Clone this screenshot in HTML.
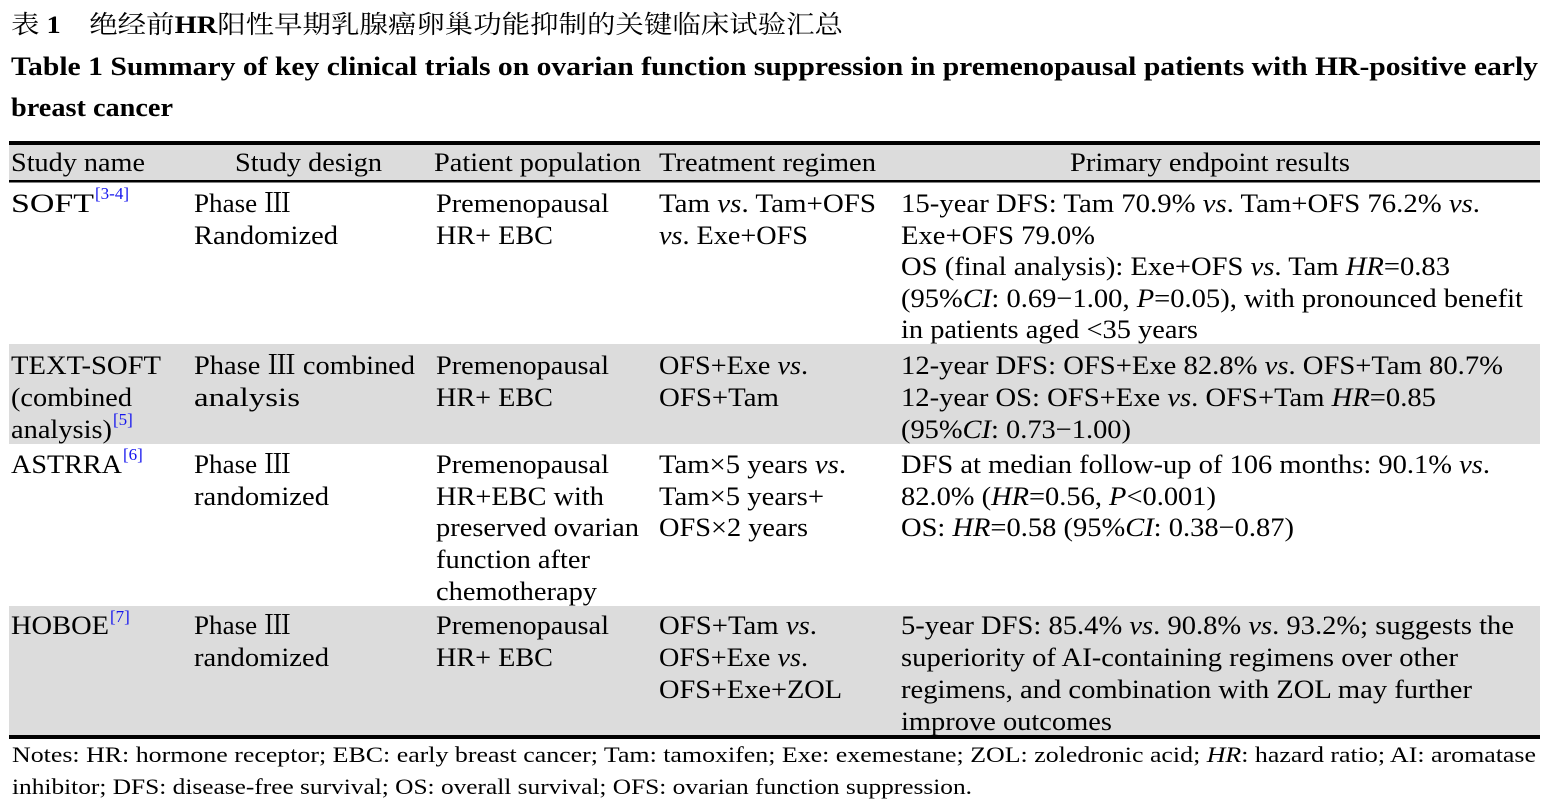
<!DOCTYPE html>
<html><head><meta charset="utf-8"><style>
html,body{margin:0;padding:0;background:#fff;}
svg{display:block;}
text{font-family:"Liberation Serif","Times New Roman","Noto Serif CJK SC",serif;fill:#000;}
.b{font-size:26.5px;}
.s{font-size:17px;fill:#1515ee;}
.n{font-size:22.5px;}
</style></head><body>
<svg width="1548" height="804" viewBox="0 0 1548 804" xmlns="http://www.w3.org/2000/svg">
<rect x="9" y="145" width="1531" height="35" fill="#dcdcdc"/>
<rect x="9" y="344" width="1531" height="100" fill="#dcdcdc"/>
<rect x="9" y="606" width="1531" height="130" fill="#dcdcdc"/>
<rect x="9" y="141" width="1531" height="4" fill="#000"/>
<rect x="9" y="180" width="1531" height="2.5" fill="#000"/>
<rect x="9" y="735" width="1531" height="4" fill="#000"/>

<text x="11" y="33" font-size="25" textLength="832" lengthAdjust="spacingAndGlyphs">表 <tspan font-weight="bold">1</tspan>　绝经前<tspan font-weight="bold">HR</tspan>阳性早期乳腺癌卵巢功能抑制的关键临床试验汇总</text>
<text x="11" y="75" font-size="26" font-weight="bold" textLength="1527" lengthAdjust="spacingAndGlyphs">Table 1    Summary of key clinical trials on ovarian function suppression in premenopausal patients with HR-positive early</text>
<text x="11" y="116" font-size="26" font-weight="bold" textLength="162" lengthAdjust="spacingAndGlyphs">breast cancer</text>

<g class="b">
<text x="11" y="171" textLength="134" lengthAdjust="spacingAndGlyphs">Study name</text>
<text x="235" y="171" textLength="147" lengthAdjust="spacingAndGlyphs">Study design</text>
<text x="434" y="171" textLength="207" lengthAdjust="spacingAndGlyphs">Patient population</text>
<text x="659" y="171" textLength="217" lengthAdjust="spacingAndGlyphs">Treatment regimen</text>
<text x="1070" y="171" textLength="280" lengthAdjust="spacingAndGlyphs">Primary endpoint results</text>

<text x="11" y="212" textLength="83" lengthAdjust="spacingAndGlyphs">SOFT</text>
<text x="194" y="212" textLength="97" lengthAdjust="spacingAndGlyphs">Phase Ⅲ</text>
<text x="194" y="244" textLength="144" lengthAdjust="spacingAndGlyphs">Randomized</text>
<text x="436" y="212" textLength="173" lengthAdjust="spacingAndGlyphs">Premenopausal</text>
<text x="436" y="244" textLength="117" lengthAdjust="spacingAndGlyphs">HR+ EBC</text>
<text x="659" y="212" textLength="217" lengthAdjust="spacingAndGlyphs">Tam <tspan font-style="italic">vs</tspan>. Tam+OFS</text>
<text x="659" y="244" textLength="149" lengthAdjust="spacingAndGlyphs"><tspan font-style="italic">vs</tspan>. Exe+OFS</text>
<text x="901" y="212" textLength="579" lengthAdjust="spacingAndGlyphs">15-year DFS: Tam 70.9% <tspan font-style="italic">vs</tspan>. Tam+OFS 76.2% <tspan font-style="italic">vs</tspan>.</text>
<text x="901" y="244" textLength="194" lengthAdjust="spacingAndGlyphs">Exe+OFS 79.0%</text>
<text x="901" y="275" textLength="549" lengthAdjust="spacingAndGlyphs">OS (final analysis): Exe+OFS <tspan font-style="italic">vs</tspan>. Tam <tspan font-style="italic">HR</tspan>=0.83</text>
<text x="901" y="307" textLength="622" lengthAdjust="spacingAndGlyphs">(95%<tspan font-style="italic">CI</tspan>: 0.69−1.00, <tspan font-style="italic">P</tspan>=0.05), with pronounced benefit</text>
<text x="901" y="338" textLength="297" lengthAdjust="spacingAndGlyphs">in patients aged &lt;35 years</text>

<text x="11" y="374" textLength="150" lengthAdjust="spacingAndGlyphs">TEXT-SOFT</text>
<text x="11" y="406" textLength="121" lengthAdjust="spacingAndGlyphs">(combined</text>
<text x="11" y="438" textLength="101" lengthAdjust="spacingAndGlyphs">analysis)</text>
<text x="194" y="374" textLength="221" lengthAdjust="spacingAndGlyphs">Phase Ⅲ combined</text>
<text x="194" y="406" textLength="106" lengthAdjust="spacingAndGlyphs">analysis</text>
<text x="436" y="374" textLength="173" lengthAdjust="spacingAndGlyphs">Premenopausal</text>
<text x="436" y="406" textLength="117" lengthAdjust="spacingAndGlyphs">HR+ EBC</text>
<text x="659" y="374" textLength="149" lengthAdjust="spacingAndGlyphs">OFS+Exe <tspan font-style="italic">vs</tspan>.</text>
<text x="659" y="406" textLength="120" lengthAdjust="spacingAndGlyphs">OFS+Tam</text>
<text x="901" y="374" textLength="602" lengthAdjust="spacingAndGlyphs">12-year DFS: OFS+Exe 82.8% <tspan font-style="italic">vs</tspan>. OFS+Tam 80.7%</text>
<text x="901" y="406" textLength="535" lengthAdjust="spacingAndGlyphs">12-year OS: OFS+Exe <tspan font-style="italic">vs</tspan>. OFS+Tam <tspan font-style="italic">HR</tspan>=0.85</text>
<text x="901" y="438" textLength="230" lengthAdjust="spacingAndGlyphs">(95%<tspan font-style="italic">CI</tspan>: 0.73−1.00)</text>

<text x="11" y="473" textLength="111" lengthAdjust="spacingAndGlyphs">ASTRRA</text>
<text x="194" y="473" textLength="97" lengthAdjust="spacingAndGlyphs">Phase Ⅲ</text>
<text x="194" y="505" textLength="135" lengthAdjust="spacingAndGlyphs">randomized</text>
<text x="436" y="473" textLength="173" lengthAdjust="spacingAndGlyphs">Premenopausal</text>
<text x="436" y="505" textLength="168" lengthAdjust="spacingAndGlyphs">HR+EBC with</text>
<text x="436" y="536" textLength="203" lengthAdjust="spacingAndGlyphs">preserved ovarian</text>
<text x="436" y="568" textLength="154" lengthAdjust="spacingAndGlyphs">function after</text>
<text x="436" y="600" textLength="161" lengthAdjust="spacingAndGlyphs">chemotherapy</text>
<text x="659" y="473" textLength="187" lengthAdjust="spacingAndGlyphs">Tam×5 years <tspan font-style="italic">vs</tspan>.</text>
<text x="659" y="505" textLength="165" lengthAdjust="spacingAndGlyphs">Tam×5 years+</text>
<text x="659" y="536" textLength="149" lengthAdjust="spacingAndGlyphs">OFS×2 years</text>
<text x="901" y="473" textLength="589" lengthAdjust="spacingAndGlyphs">DFS at median follow-up of 106 months: 90.1% <tspan font-style="italic">vs</tspan>.</text>
<text x="901" y="505" textLength="315" lengthAdjust="spacingAndGlyphs">82.0% (<tspan font-style="italic">HR</tspan>=0.56, <tspan font-style="italic">P</tspan>&lt;0.001)</text>
<text x="901" y="536" textLength="393" lengthAdjust="spacingAndGlyphs">OS: <tspan font-style="italic">HR</tspan>=0.58 (95%<tspan font-style="italic">CI</tspan>: 0.38−0.87)</text>

<text x="11" y="634" textLength="98" lengthAdjust="spacingAndGlyphs">HOBOE</text>
<text x="194" y="634" textLength="97" lengthAdjust="spacingAndGlyphs">Phase Ⅲ</text>
<text x="194" y="666" textLength="135" lengthAdjust="spacingAndGlyphs">randomized</text>
<text x="436" y="634" textLength="173" lengthAdjust="spacingAndGlyphs">Premenopausal</text>
<text x="436" y="666" textLength="117" lengthAdjust="spacingAndGlyphs">HR+ EBC</text>
<text x="659" y="634" textLength="158" lengthAdjust="spacingAndGlyphs">OFS+Tam <tspan font-style="italic">vs</tspan>.</text>
<text x="659" y="666" textLength="149" lengthAdjust="spacingAndGlyphs">OFS+Exe <tspan font-style="italic">vs</tspan>.</text>
<text x="659" y="698" textLength="183" lengthAdjust="spacingAndGlyphs">OFS+Exe+ZOL</text>
<text x="901" y="634" textLength="613" lengthAdjust="spacingAndGlyphs">5-year DFS: 85.4% <tspan font-style="italic">vs</tspan>. 90.8% <tspan font-style="italic">vs</tspan>. 93.2%; suggests the</text>
<text x="901" y="666" textLength="557" lengthAdjust="spacingAndGlyphs">superiority of AI-containing regimens over other</text>
<text x="901" y="698" textLength="571" lengthAdjust="spacingAndGlyphs">regimens, and combination with ZOL may further</text>
<text x="901" y="730" textLength="211" lengthAdjust="spacingAndGlyphs">improve outcomes</text>
</g>

<text class="s" x="95" y="199">[3-4]</text>
<text class="s" x="113" y="425">[5]</text>
<text class="s" x="123" y="460">[6]</text>
<text class="s" x="110" y="622">[7]</text>

<text class="n" x="12" y="762" textLength="1524" lengthAdjust="spacingAndGlyphs">Notes: HR: hormone receptor; EBC: early breast cancer; Tam: tamoxifen; Exe: exemestane; ZOL: zoledronic acid; <tspan font-style="italic">HR</tspan>: hazard ratio; AI: aromatase</text>
<text class="n" x="12" y="794" textLength="960" lengthAdjust="spacingAndGlyphs">inhibitor; DFS: disease-free survival; OS: overall survival; OFS: ovarian function suppression.</text>
</svg>
</body></html>
